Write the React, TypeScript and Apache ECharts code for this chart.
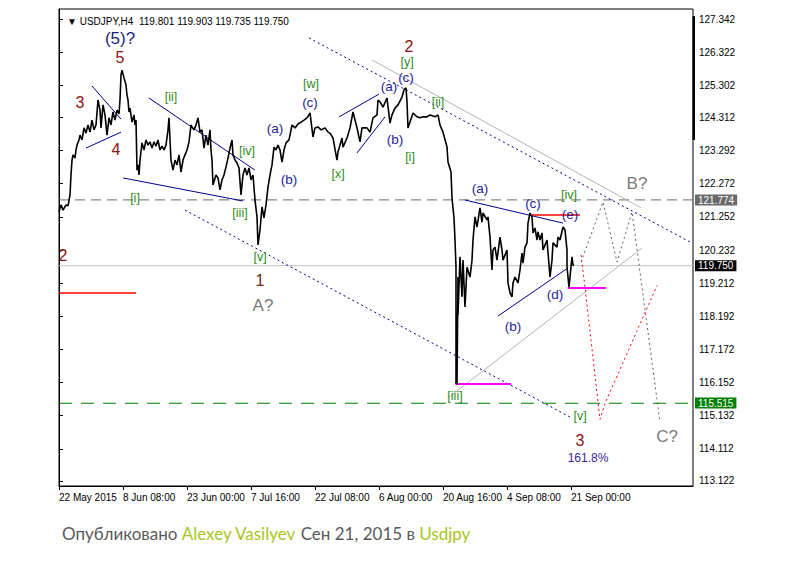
import React, { useEffect, useRef } from "react";
import * as echarts from "echarts";

const headerText = "USDJPY,H4  119.801 119.903 119.735 119.750";
const dateLabels = [
  "22 May 2015", "8 Jun 08:00", "23 Jun 00:00", "7 Jul 16:00", "22 Jul 08:00",
  "6 Aug 00:00", "20 Aug 16:00", "4 Sep 08:00", "21 Sep 00:00",
];
const barsPerDateLabel = 64;
const lastBarIndex = 634;
const priceTickLabels = [
  "127.342", "126.322", "125.302", "124.312", "123.292", "122.272", "121.252", "120.232",
  "119.212", "118.192", "117.172", "116.152", "115.132", "114.112", "113.122",
];

// [bar index, price]
const priceData: [number, number][] = [
  [0,121.40],[2,121.62],[4,121.46],[7,121.62],[9,121.59],[11,121.93],[12,122.54],[13,123.00],[14,123.16],[16,123.06],
  [17,123.31],[18,123.46],[20,123.62],[21,123.77],[23,123.62],[25,123.99],[27,123.83],[29,124.08],[31,123.86],[33,124.23],
  [35,123.93],[37,124.08],[39,124.85],[41,124.54],[42,123.99],[44,124.70],[46,124.39],[48,123.77],[50,124.30],[52,124.08],
  [54,124.48],[56,124.23],[58,124.54],[60,124.42],[61,124.85],[62,125.62],[63,125.77],[65,125.53],[67,125.31],[68,125.00],
  [69,124.85],[70,124.48],[71,124.60],[73,124.17],[75,124.39],[76,124.08],[77,124.23],[78,122.69],[79,122.85],[80,122.54],
  [81,123.00],[83,123.53],[85,123.31],[87,123.62],[89,123.46],[91,123.56],[93,123.37],[95,123.56],[97,123.43],[99,123.62],
  [101,123.31],[103,123.43],[105,123.31],[107,123.46],[109,123.93],[110,124.30],[111,123.62],[112,123.00],[114,122.69],[116,123.00],
  [118,122.85],[120,123.16],[122,122.63],[124,123.00],[126,123.16],[128,123.31],[130,123.56],[132,124.08],[133,124.02],[135,123.93],
  [137,124.08],[139,124.30],[141,123.86],[143,123.93],[145,123.37],[147,123.77],[149,123.46],[151,123.93],[152,123.31],[153,123.00],
  [154,122.23],[157,122.54],[159,122.45],[161,122.08],[163,122.39],[165,122.54],[167,122.79],[169,123.06],[171,123.37],[173,123.62],
  [174,123.16],[176,123.00],[178,122.91],[180,122.76],[182,121.93],[184,122.54],[186,122.76],[188,122.54],[190,122.76],[192,122.39],
  [194,122.54],[196,121.77],[198,121.25],[199,120.39],[201,120.85],[203,121.56],[205,121.22],[207,121.62],[209,122.17],[211,122.54],
  [213,122.85],[215,123.40],[217,123.31],[219,123.46],[221,123.31],[223,122.94],[225,123.31],[227,123.53],[230,123.62],[233,124.08],
  [236,123.99],[239,124.11],[242,124.17],[245,124.23],[248,124.30],[251,124.45],[254,123.71],[256,123.99],[259,124.02],[262,123.93],
  [266,123.99],[269,123.86],[271,123.83],[274,123.68],[277,123.16],[278,123.00],[279,123.25],[283,123.68],[284,123.40],[288,123.68],
  [291,123.99],[294,124.48],[298,123.99],[301,123.56],[303,123.99],[308,123.99],[311,123.86],[314,124.30],[318,124.39],[319,124.85],
  [321,124.79],[324,124.63],[328,124.91],[331,124.14],[333,124.39],[336,124.60],[339,124.70],[343,124.94],[345,125.16],[347,125.22],
  [348,124.79],[349,123.99],[351,124.17],[354,124.45],[358,124.33],[361,124.30],[364,124.33],[368,124.33],[371,124.39],[376,124.33],
  [379,124.39],[381,124.08],[384,123.86],[388,123.40],[389,122.94],[392,122.63],[393,121.83],[395,121.22],[396,120.54],[397,119.70],
  [397,116.11],[398,116.11],[399,119.40],[399,118.23],[401,120.02],[403,118.79],[404,119.92],[406,118.48],[408,119.70],[411,119.40],
  [413,119.92],[414,120.54],[416,121.25],[418,120.94],[421,121.53],[423,121.09],[424,121.37],[428,121.16],[429,121.25],[431,120.63],
  [433,119.62],[434,120.23],[436,120.32],[438,119.92],[441,120.63],[443,120.23],[444,119.92],[448,120.23],[449,119.22],[451,118.91],
  [453,118.79],[454,119.22],[456,119.40],[459,119.22],[461,119.62],[463,120.14],[464,119.83],[466,120.32],[468,120.45],[469,121.06],
  [471,121.37],[473,121.25],[474,120.76],[476,120.91],[478,120.54],[479,120.79],[481,120.54],[483,120.76],[484,120.23],[488,120.54],
  [491,119.40],[493,119.92],[494,120.45],[498,120.32],[499,120.63],[501,120.54],[504,120.94],[506,120.85],[508,120.23],[508,119.71],
  [510,119.09],[512,119.71],[513,120.02],[514,119.77],[515,119.75],
];

const levelLines = [
  { value: 121.774, kind: "level" },
  { value: 119.75, kind: "last" },
  { value: 115.515, kind: "target" },
];

const trendLines: { kind: string; points: [number, number][] }[] = [
  { kind: "navyDot", points: [[250, 126.76], [631, 120.48]] },
  { kind: "gray", points: [[313, 126.08], [582, 121.53]] },
  { kind: "navyDot", points: [[126, 121.46], [511, 115.09]] },
  { kind: "gray", points: [[389, 115.68], [583, 120.29]] },
  { kind: "navy", points: [[406, 121.77], [504, 121.06]] },
  { kind: "navy", points: [[439, 118.2], [509, 119.68]] },
  { kind: "magenta", points: [[398, 116.11], [452, 116.11]] },
  { kind: "magenta", points: [[509, 119.06], [547, 119.06]] },
  { kind: "red", points: [[473, 121.31], [521, 121.31]] },
  { kind: "navy", points: [[33, 125.28], [62, 124.26]] },
  { kind: "navy", points: [[27, 123.37], [62, 123.86]] },
  { kind: "navy", points: [[90, 124.91], [196, 122.69]] },
  { kind: "navy", points: [[64, 122.45], [184, 121.74]] },
  { kind: "navy", points: [[280, 124.33], [320, 125.03]] },
  { kind: "navy", points: [[298, 123.22], [326, 124.33]] },
  { kind: "red", points: [[0, 118.91], [77, 118.91]] },
  { kind: "redDot", points: [[522, 120.08], [526, 119.09], [541, 115.02], [546, 115.51], [598, 119.14]] },
  { kind: "grayDot", points: [[522, 119.86], [544, 121.71], [558, 119.86], [573, 121.4], [601, 114.94]] },
];

const scrollMarker: [number, number][] = [[635, 127.43], [635, 123.62]];

// [text, bar index, price, kind]
const waveLabels: [string, number, number, string][] = [
  ["(5)?", 61, 126.73, "major"],
  ["5", 61, 126.15, "num"],
  ["3", 21, 124.76, "num"],
  ["4", 57, 123.34, "num"],
  ["2", 4, 120.05, "num"],
  ["[ii]", 112, 124.94, "minute"],
  ["[iv]", 188, 123.28, "minute"],
  ["[i]", 76, 121.83, "minute"],
  ["[iii]", 181, 121.37, "minute"],
  ["[v]", 201, 120.02, "minute"],
  ["1", 201, 119.28, "one"],
  ["A?", 204, 118.51, "alt"],
  ["(a)", 216, 123.96, "minor"],
  ["(b)", 230, 122.39, "minor"],
  ["[w]", 252, 125.34, "minute"],
  ["(c)", 251, 124.76, "minor"],
  ["[x]", 279, 122.57, "minute"],
  ["(a)", 330, 125.25, "minor"],
  ["(c)", 347, 125.53, "minor"],
  ["[y]", 348, 126.02, "minute"],
  ["2", 350, 126.51, "num"],
  ["(b)", 336, 123.62, "minor"],
  ["[i]", 351, 123.09, "minute"],
  ["[ii]", 379, 124.79, "minute"],
  ["(a)", 421, 122.11, "minor"],
  ["(c)", 474, 121.65, "minor"],
  ["(e)", 511, 121.31, "minor"],
  ["[iv]", 510, 121.93, "minute"],
  ["(b)", 454, 117.89, "minor"],
  ["(d)", 496, 118.85, "minor"],
  ["[iii]", 396, 115.74, "minute"],
  ["[v]", 521, 115.12, "minute"],
  ["3", 521, 114.38, "num"],
  ["161.8%", 529, 113.83, "pct"],
  ["B?", 578, 122.29, "alt"],
  ["C?", 608, 114.48, "alt"],
];

const lineStyles: Record<string, any> = {
  navyDot: { color: "#00008b", width: 1, type: [2, 3] },
  navy: { color: "#00008b", width: 1, type: "solid" },
  gray: { color: "#b4b4b4", width: 1, type: "solid" },
  magenta: { color: "#ff00ff", width: 2, type: "solid" },
  red: { color: "#ff0000", width: 1.5, type: "solid" },
  redDot: { color: "#ff0000", width: 1, type: [2, 3] },
  grayDot: { color: "#606060", width: 1, type: [2, 3] },
};

const labelStyles: Record<string, any> = {
  major: { color: "#1a237a", fontSize: 17 },
  num: { color: "#8b1212", fontSize: 16 },
  one: { color: "#6b2a14", fontSize: 16 },
  minute: { color: "#2f8a1c", fontSize: 12.5 },
  minor: { color: "#24249a", fontSize: 13.5 },
  alt: { color: "#7a7a7a", fontSize: 17 },
  pct: { color: "#3c1f9a", fontSize: 12 },
};

const levelStyles: Record<string, any> = {
  level: { line: { color: "#6a6a6a", width: 1, type: [10, 6] }, bg: "#6a6a6a" },
  last: { line: { color: "#c0c0c0", width: 1, type: "solid" }, bg: "#000000" },
  target: { line: { color: "#008000", width: 1.2, type: [13, 9] }, bg: "#008000" },
};

export default function App() {
  const ref = useRef<HTMLDivElement>(null);
  useEffect(() => {
    if (!ref.current) return;
    const chart = echarts.init(ref.current, null, { renderer: "svg" });
    const dateTicks = dateLabels.map((_, i) => i * barsPerDateLabel);
    const priceTicks = priceTickLabels.map((s) => parseFloat(s));
    const font = "Liberation Sans";
    const option: any = {
      animation: false,
      backgroundColor: "#ffffff",
      textStyle: { fontFamily: font },
      title: [
        {
          text: "\u25BC " + headerText,
          left: 62,
          top: 11,
          textStyle: { fontSize: 10, fontWeight: "normal", color: "#000", fontFamily: font },
        },
        {
          text: "{g|Опубликовано }{l|Alexey Vasilyev}{g| Сен 21, 2015 в }{l|Usdjpy}",
          left: 57,
          top: 520,
          textStyle: {
            fontWeight: "normal",
            rich: {
              g: { fontSize: 17, color: "#5a5a5a", fontFamily: "Lato", fontWeight: "normal" },
              l: { fontSize: 17, color: "#a9c61c", fontFamily: "Lato", fontWeight: "normal" },
            },
          },
        },
      ],
      grid: { left: 59, right: 119, top: 9, bottom: 88, show: true, borderColor: "#000", borderWidth: 1 },
      xAxis: {
        type: "value",
        min: 0,
        max: lastBarIndex,
        splitLine: { show: false },
        axisLine: { show: true, lineStyle: { color: "#000" } },
        axisTick: { show: true, length: 4, customValues: dateTicks, lineStyle: { color: "#000" } },
        axisLabel: {
          customValues: dateTicks,
          formatter: (v: number) => dateLabels[Math.round(v / barsPerDateLabel)] ?? "",
          align: "left",
          fontSize: 10,
          color: "#000",
          margin: 6,
          hideOverlap: false,
          fontFamily: font,
        },
      },
      yAxis: {
        type: "value",
        position: "right",
        min: 112.968,
        max: 127.65,
        splitLine: { show: false },
        axisLine: { show: true, lineStyle: { color: "#000" } },
        axisTick: { show: true, length: 4, customValues: priceTicks, lineStyle: { color: "#000" } },
        axisLabel: {
          customValues: priceTicks,
          formatter: (v: number) => v.toFixed(3),
          fontSize: 10,
          color: "#000",
          margin: 6,
          fontFamily: font,
        },
      },
      series: [
        ...levelLines.map((l) => ({
          type: "line",
          data: [[0, l.value], [lastBarIndex, l.value]],
          showSymbol: false,
          symbol: "none",
          lineStyle: levelStyles[l.kind].line,
          itemStyle: { color: levelStyles[l.kind].line.color },
          silent: true,
          z: 1,
          markLine: {
            silent: true,
            symbol: ["none", "none"],
            lineStyle: { color: "rgba(255,255,255,0)", width: 0 },
            label: {
              show: true,
              position: "end",
              distance: 2,
              formatter: l.value.toFixed(3),
              color: "#ffffff",
              opacity: 1,
              backgroundColor: levelStyles[l.kind].bg,
              padding: [1, 3, 0, 3],
              fontSize: 10,
              fontFamily: font,
            },
            data: [{ yAxis: l.value }],
          },
        })),
        ...trendLines.map((t) => ({
          type: "line",
          data: t.points,
          showSymbol: false,
          symbol: "none",
          lineStyle: lineStyles[t.kind],
          silent: true,
          z: 2,
        })),
        {
          type: "line",
          data: priceData,
          showSymbol: false,
          symbol: "none",
          lineStyle: { color: "#000", width: 1.6 },
          silent: true,
          z: 3,
        },
        {
          type: "line",
          data: scrollMarker,
          showSymbol: false,
          symbol: "none",
          lineStyle: { color: "#000", width: 3 },
          clip: false,
          silent: true,
        },
        {
          type: "scatter",
          symbolSize: 1,
          itemStyle: { color: "rgba(0,0,0,0)" },
          silent: true,
          z: 5,
          clip: false,
          data: waveLabels.map(([text, x, y, kind]) => ({
            value: [x, y],
            name: text,
            label: { color: labelStyles[kind].color, fontSize: labelStyles[kind].fontSize },
          })),
          label: {
            show: true,
            position: "inside",
            formatter: (p: any) => p.name,
            fontFamily: font,
            textBorderWidth: 0,
            textBorderColor: "transparent",
            opacity: 1,
          },
        },
      ],
    };
    chart.setOption(option);
    return () => chart.dispose();
  }, []);
  return <div ref={ref} style={{ position: "absolute", left: 0, top: 0, width: 812, height: 574 }} />;
}
